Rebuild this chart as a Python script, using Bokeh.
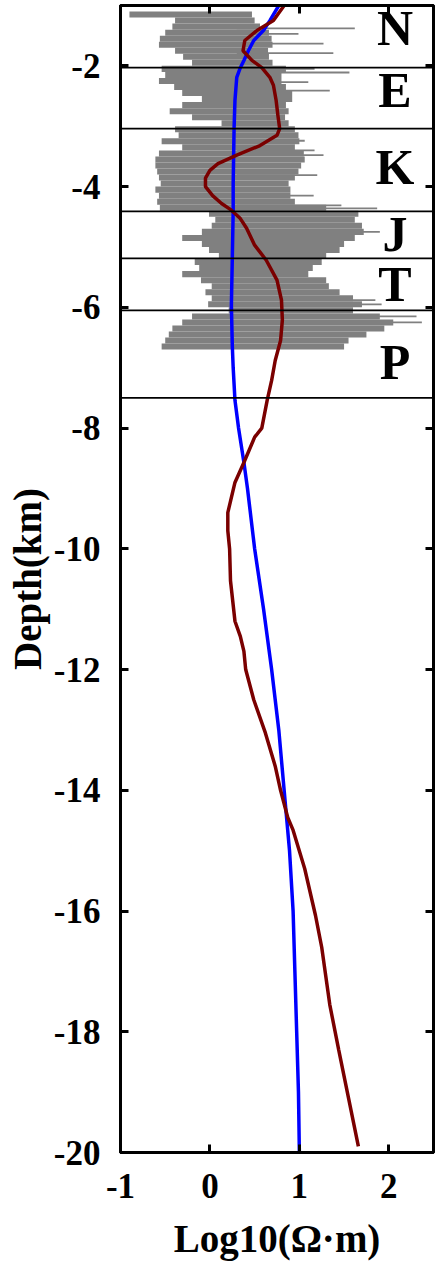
from bokeh.plotting import figure
from bokeh.models import Range1d, LinearAxis, FixedTicker, Span, ColumnDataSource
from bokeh.core.properties import value
from bokeh.embed import file_html
from bokeh.resources import INLINE

# ---- data ----
# Smooth (blue) model: depth (km) and log10 resistivity
blue_depth = [-1.0, -1.25, -1.41, -1.58, -1.75, -1.91, -2.03, -2.19, -2.57, -3.04, -3.95,
              -4.41, -5.2, -5.97, -6.63, -7.0, -7.54, -8.0, -8.57, -9.0, -10.0, -11.0,
              -12.0, -13.0, -14.0, -15.0, -16.0, -17.0, -18.0, -19.0, -20.0]
blue_val = [0.77, 0.67, 0.60, 0.49, 0.43, 0.38, 0.34, 0.30, 0.28, 0.27, 0.26,
            0.26, 0.25, 0.24, 0.25, 0.26, 0.28, 0.32, 0.38, 0.42, 0.50, 0.60,
            0.69, 0.77, 0.83, 0.89, 0.93, 0.95, 0.97, 0.99, 1.00]

# Constrained (dark red) model
red_depth = [-1.0, -1.25, -1.41, -1.58, -1.75, -1.91, -2.03, -2.19, -2.32, -2.57, -2.82,
             -3.04, -3.15, -3.32, -3.48, -3.62, -3.73, -3.86, -4.0, -4.15, -4.28, -4.39,
             -4.53, -4.69, -4.97, -5.22, -5.55, -5.88, -6.21, -6.55, -6.88, -7.21, -7.54,
             -8.0, -8.15, -8.57, -8.9, -9.4, -9.7, -10.0, -10.53, -11.2, -11.45, -11.7,
             -12.0, -12.5, -13.05, -13.6, -14.0, -14.45, -14.66, -15.3, -16.07, -16.6,
             -17.55, -18.3, -19.1, -19.9]
red_val = [0.83, 0.71, 0.53, 0.39, 0.37, 0.47, 0.58, 0.67, 0.71, 0.74, 0.76,
           0.78, 0.75, 0.56, 0.30, 0.09, 0.00, -0.05, -0.05, 0.03, 0.13, 0.24,
           0.34, 0.41, 0.50, 0.63, 0.75, 0.80, 0.81, 0.79, 0.73, 0.69, 0.64,
           0.58, 0.50, 0.38, 0.28, 0.20, 0.20, 0.22, 0.23, 0.28, 0.34, 0.38,
           0.40, 0.49, 0.62, 0.73, 0.79, 0.87, 0.93, 1.06, 1.18, 1.25,
           1.34, 1.44, 1.55, 1.66]

# Well log (gray): sampled depth, left edge and dense right edge of the trace
log_depth = [-1.15, -1.25, -1.35, -1.45, -1.55, -1.65, -1.75, -1.85, -1.95, -2.05,
             -2.15, -2.25, -2.35, -2.45, -2.55, -2.65, -2.75, -2.85, -2.95, -3.05,
             -3.15, -3.25, -3.35, -3.45, -3.55, -3.65, -3.75, -3.85, -3.95, -4.05,
             -4.15, -4.25, -4.35, -4.45, -4.55, -4.65, -4.75, -4.85, -4.95, -5.05,
             -5.15, -5.25, -5.35, -5.45, -5.55, -5.65, -5.75, -5.85, -5.95, -6.05,
             -6.15, -6.25, -6.35, -6.45, -6.55, -6.65]
log_left = [-0.90, -0.39, -0.42, -0.50, -0.56, -0.57, -0.39, -0.30, -0.20, -0.54,
            -0.50, -0.57, -0.40, -0.31, -0.09, -0.31, -0.45, -0.20, 0.13, -0.39,
            -0.35, -0.54, -0.31, -0.57, -0.61, -0.61, -0.59, -0.57, -0.55, -0.61,
            -0.57, -0.59, -0.56, -0.01, 0.06, 0.02, -0.09, -0.31, -0.09, -0.01,
            0.10, -0.17, -0.12, -0.31, -0.10, 0.02, -0.05, 0.02, -0.02, 0.21,
            -0.20, -0.31, -0.42, -0.46, -0.50, -0.54]
log_right = [0.47, 0.50, 0.56, 0.66, 0.69, 0.70, 0.65, 0.66, 0.70, 0.85,
             0.80, 0.80, 0.85, 0.92, 0.92, 0.85, 0.88, 0.84, 0.88, 0.95,
             0.99, 1.00, 0.95, 1.05, 1.06, 1.02, 0.99, 0.95, 0.88, 0.90,
             0.90, 0.95, 1.30, 1.66, 1.62, 1.70, 1.72, 1.62, 1.50, 1.45,
             1.30, 1.25, 1.15, 1.10, 1.30, 1.33, 1.45, 1.60, 1.70, 1.60,
             1.90, 2.05, 1.95, 1.75, 1.55, 1.50]

# thin spikes of the log reaching further right
spike_depth = [-1.38, -1.47, -1.63, -1.79, -2.05, -2.11, -2.27, -2.41, -3.24, -3.40,
               -3.48, -3.81, -4.15, -4.31, -4.36, -4.75, -5.88, -5.95, -6.15, -6.25]
spike_left = [0.30, 0.30, 0.30, 0.30, 0.30, 0.30, 0.30, 0.30, 0.30, 0.30,
              0.30, 0.30, 0.30, 0.30, 0.30, 0.30, 0.30, 0.30, 0.30, 0.30]
spike_right = [1.62, 0.99, 1.27, 1.38, 1.17, 1.56, 1.10, 1.34, 1.06, 1.17,
               1.27, 1.20, 1.16, 1.47, 1.87, 1.90, 1.85, 1.92, 2.31, 2.37]

# Formation boundaries and labels
boundary_depths = [-2.03, -3.04, -4.41, -5.19, -6.05, -7.5]
formation_names = ["N", "E", "K", "J", "T", "P"]
formation_depths = [-1.38, -2.40, -3.68, -4.78, -5.62, -6.91]
formation_x = [2.07, 2.07, 2.07, 2.07, 2.07, 2.07]

x_ticks = [-1, 0, 1, 2]
x_tick_labels = ["-1", "0", "1", "2"]
y_ticks = [-2, -4, -6, -8, -10, -12, -14, -16, -18, -20]
y_tick_labels = ["-2", "-4", "-6", "-8", "-10", "-12", "-14", "-16", "-18", "-20"]

FONT = "Liberation Serif"

p = figure(frame_width=313, frame_height=1147,
           x_range=Range1d(-1, 2.5), y_range=Range1d(-20, -1),
           output_backend="svg", toolbar_location=None,
           min_border_left=120, min_border_right=3, min_border_top=5, min_border_bottom=0,
           x_axis_label="Log10(Ω·m)", y_axis_label="Depth(km)")
p.xgrid.visible = False
p.ygrid.visible = False
p.outline_line_color = "black"
p.outline_line_width = 3
p.background_fill_color = "white"
p.border_fill_color = "white"

p.add_layout(LinearAxis(), "above")
p.add_layout(LinearAxis(), "right")

for ax in p.xaxis:
    ax.ticker = FixedTicker(ticks=x_ticks)
for ax in p.yaxis:
    ax.ticker = FixedTicker(ticks=y_ticks)

for ax in list(p.xaxis) + list(p.yaxis):
    ax.axis_line_width = 3
    ax.axis_line_color = "black"
    ax.major_tick_line_width = 3
    ax.major_tick_line_color = "black"
    ax.major_tick_in = 8
    ax.major_tick_out = 0
    ax.minor_tick_in = 0
    ax.minor_tick_out = 0
    ax.major_label_text_font = FONT
    ax.major_label_text_font_style = "bold"
    ax.major_label_text_font_size = "35px"
    ax.major_label_text_color = "black"
    ax.axis_label_text_font = FONT
    ax.axis_label_text_font_style = "bold"
    ax.axis_label_text_font_size = "39px"
    ax.axis_label_text_color = "black"

p.below[0].major_label_overrides = {t: s for t, s in zip(x_ticks, x_tick_labels)}
p.left[0].major_label_overrides = {t: s for t, s in zip(y_ticks, y_tick_labels)}

# no labels on the top/right axes
p.above[0].major_label_overrides = {t: "" for t in x_ticks}
p.right[0].major_label_overrides = {t: "" for t in y_ticks}
for ax in [p.above[0], p.right[0]]:
    ax.major_label_text_font_size = "1px"
    ax.major_label_standoff = 0

p.below[0].major_label_standoff = 21
p.below[0].axis_label_standoff = 16
p.left[0].major_label_standoff = 20
p.left[0].axis_label_standoff = 2

# gray well log: dense body plus thin spikes
p.hbar(y=log_depth, left=log_left, right=log_right, height=0.1,
       fill_color="#808080", line_color=None)
p.hbar(y=spike_depth, left=spike_left, right=spike_right, height=0.03,
       fill_color="#808080", line_color=None)

# formation boundaries
for d in boundary_depths:
    p.add_layout(Span(location=d, dimension="width", line_color="black", line_width=1.8))

# model curves
p.line(blue_val, blue_depth, line_color="#0000ff", line_width=3.5)
p.line(red_val, red_depth, line_color="#7a0000", line_width=3.5)

# formation labels
src = ColumnDataSource(dict(x=formation_x, y=formation_depths, t=formation_names))
p.text(x="x", y="y", text="t", source=src, text_font=value(FONT), text_font_style="bold",
       text_font_size="50px", text_align="center", text_baseline="middle", text_color="black")

open("out.html", "w").write(file_html(p, INLINE))
